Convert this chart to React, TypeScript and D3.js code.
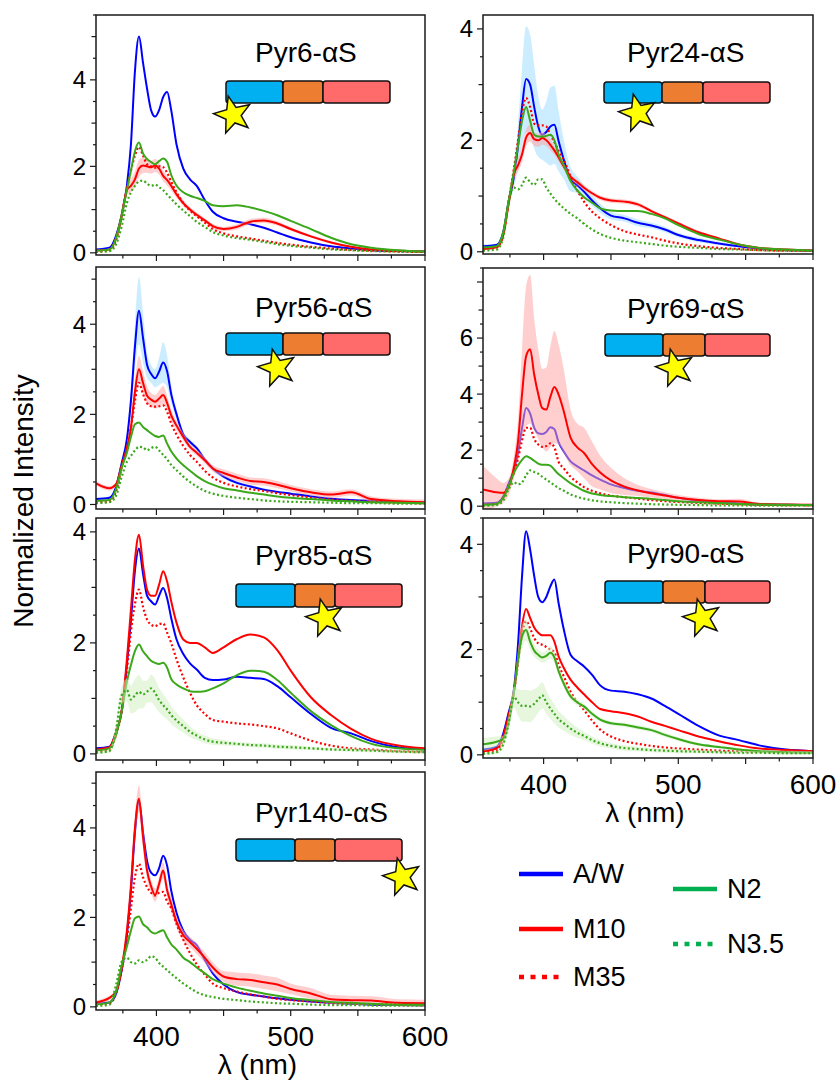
import React from "react";
import * as d3 from "d3";

// ---------------- DATA ----------------
const WAVELENGTHS = [355, 365, 370, 374, 378, 381, 384, 387, 390, 393, 396, 399, 402, 405, 408, 411, 415, 420, 425, 430, 436, 442, 450, 460, 470, 480, 490, 500, 515, 530, 545, 560, 580, 600];

const SERIES_KEYS = ["AW", "M10", "M35", "N2", "N35"];
const SERIES_LABELS = ["A/W", "M10", "M35", "N2", "N3.5"];

const X_TICK_LABELS = [400, 500, 600];
const Y_TICK_LABELS = [0, 2, 4, 6];

const PANEL_TITLES = ["Pyr6-αS", "Pyr24-αS", "Pyr56-αS", "Pyr69-αS", "Pyr85-αS", "Pyr90-αS", "Pyr140-αS"];

// Pyr6
const PYR6_AW = [0.08, 0.12, 0.4, 0.85, 1.55, 2.5, 4.2, 5.0, 4.4, 3.8, 3.3, 3.15, 3.3, 3.6, 3.72, 3.3, 2.5, 1.95, 1.7, 1.55, 1.22, 0.95, 0.8, 0.72, 0.66, 0.58, 0.47, 0.36, 0.24, 0.15, 0.1, 0.06, 0.04, 0.03];
const PYR6_M10 = [0.05, 0.08, 0.35, 0.85, 1.45, 1.55, 1.7, 1.95, 2.02, 2.0, 1.98, 2.02, 1.95, 1.78, 1.68, 1.55, 1.35, 1.15, 1.0, 0.88, 0.75, 0.62, 0.55, 0.6, 0.72, 0.75, 0.68, 0.55, 0.38, 0.24, 0.14, 0.08, 0.05, 0.03];
const PYR6_M35 = [0.03, 0.06, 0.3, 0.85, 1.5, 1.9, 2.25, 2.45, 2.25, 2.05, 2.0, 1.97, 2.0, 1.98, 1.85, 1.65, 1.4, 1.15, 0.98, 0.85, 0.7, 0.55, 0.45, 0.38, 0.33, 0.28, 0.23, 0.19, 0.14, 0.1, 0.07, 0.05, 0.03, 0.02];
const PYR6_N2 = [0.05, 0.08, 0.35, 0.85, 1.45, 1.9, 2.35, 2.55, 2.3, 2.17, 2.1, 2.05, 2.12, 2.18, 2.1, 1.8, 1.55, 1.4, 1.32, 1.27, 1.2, 1.1, 1.08, 1.1, 1.05, 0.97, 0.87, 0.74, 0.55, 0.35, 0.2, 0.12, 0.06, 0.03];
const PYR6_N35 = [0.02, 0.04, 0.2, 0.6, 1.15, 1.4, 1.55, 1.65, 1.67, 1.6, 1.55, 1.58, 1.52, 1.45, 1.35, 1.25, 1.12, 0.98, 0.85, 0.72, 0.6, 0.48, 0.4, 0.34, 0.3, 0.25, 0.2, 0.16, 0.12, 0.08, 0.06, 0.04, 0.03, 0.02];
const PYR6_M10_BAND = [0.02, 0.02, 0.05, 0.08, 0.12, 0.15, 0.18, 0.2, 0.18, 0.15, 0.15, 0.15, 0.14, 0.12, 0.12, 0.1, 0.08, 0.07, 0.06, 0.06, 0.05, 0.05, 0.05, 0.06, 0.06, 0.06, 0.05, 0.04, 0.03, 0.03, 0.02, 0.02, 0.02, 0.02];

// Pyr24
const PYR24_AW = [0.1, 0.12, 0.35, 0.9, 1.35, 1.9, 2.6, 3.1, 3.0, 2.6, 2.25, 2.1, 2.15, 2.25, 2.28, 2.0, 1.65, 1.3, 1.2, 1.08, 0.92, 0.78, 0.65, 0.6, 0.52, 0.47, 0.4, 0.3, 0.21, 0.15, 0.1, 0.06, 0.03, 0.02];
const PYR24_M10 = [0.05, 0.08, 0.3, 0.85, 1.4, 1.55, 1.75, 2.05, 2.13, 2.02, 2.0, 2.04, 2.0, 1.92, 1.82, 1.7, 1.53, 1.35, 1.25, 1.15, 1.05, 0.97, 0.92, 0.9, 0.85, 0.73, 0.62, 0.51, 0.35, 0.24, 0.13, 0.07, 0.04, 0.02];
const PYR24_M35 = [0.06, 0.08, 0.3, 0.9, 1.5, 2.0, 2.5, 2.76, 2.6, 2.3, 2.27, 2.27, 2.25, 2.1, 1.97, 1.82, 1.65, 1.35, 1.1, 0.9, 0.72, 0.6, 0.48, 0.37, 0.31, 0.26, 0.2, 0.15, 0.1, 0.07, 0.05, 0.03, 0.02, 0.02];
const PYR24_N2 = [0.08, 0.1, 0.35, 0.9, 1.45, 1.9, 2.35, 2.6, 2.35, 2.1, 2.07, 2.07, 2.08, 2.1, 2.0, 1.75, 1.55, 1.27, 1.1, 0.98, 0.88, 0.78, 0.74, 0.73, 0.73, 0.68, 0.6, 0.48, 0.32, 0.22, 0.13, 0.07, 0.04, 0.02];
const PYR24_N35 = [0.02, 0.04, 0.25, 0.9, 1.15, 1.12, 1.2, 1.33, 1.25, 1.2, 1.3, 1.3, 1.15, 1.05, 0.95, 0.87, 0.78, 0.68, 0.6, 0.5, 0.4, 0.32, 0.25, 0.2, 0.17, 0.14, 0.11, 0.09, 0.07, 0.05, 0.04, 0.03, 0.02, 0.02];
const PYR24_AW_BAND = [0.03, 0.03, 0.05, 0.1, 0.2, 0.4, 0.7, 0.95, 0.9, 0.75, 0.55, 0.45, 0.55, 0.7, 0.7, 0.55, 0.35, 0.22, 0.15, 0.12, 0.1, 0.08, 0.07, 0.06, 0.06, 0.05, 0.05, 0.04, 0.04, 0.03, 0.03, 0.02, 0.02, 0.02];
const PYR24_M10_BAND = [0.02, 0.02, 0.04, 0.06, 0.1, 0.12, 0.14, 0.15, 0.15, 0.12, 0.12, 0.12, 0.1, 0.1, 0.08, 0.08, 0.06, 0.05, 0.05, 0.05, 0.04, 0.04, 0.04, 0.04, 0.04, 0.03, 0.03, 0.03, 0.03, 0.02, 0.02, 0.02, 0.02, 0.02];

// Pyr56
const PYR56_AW = [0.12, 0.15, 0.4, 0.9, 1.45, 2.3, 3.5, 4.3, 3.7, 3.1, 2.9, 2.8, 2.95, 3.15, 2.95, 2.45, 2.0, 1.55, 1.39, 1.25, 1.0, 0.8, 0.62, 0.48, 0.4, 0.33, 0.28, 0.24, 0.18, 0.13, 0.1, 0.08, 0.06, 0.04];
const PYR56_M10 = [0.47, 0.36, 0.45, 0.85, 1.25, 1.7, 2.5, 3.0, 2.7, 2.42, 2.33, 2.28, 2.35, 2.43, 2.25, 1.98, 1.75, 1.5, 1.28, 1.15, 0.98, 0.8, 0.7, 0.6, 0.52, 0.5, 0.44, 0.36, 0.27, 0.22, 0.27, 0.12, 0.07, 0.05];
const PYR56_M35 = [0.05, 0.07, 0.3, 0.8, 1.25, 1.7, 2.3, 2.7, 2.45, 2.25, 2.18, 2.17, 2.18, 2.2, 2.05, 1.8, 1.55, 1.3, 1.1, 0.95, 0.75, 0.6, 0.48, 0.4, 0.34, 0.3, 0.25, 0.21, 0.15, 0.11, 0.08, 0.06, 0.04, 0.03];
const PYR56_N2 = [0.08, 0.1, 0.35, 0.8, 1.15, 1.5, 1.78, 1.82, 1.72, 1.65, 1.58, 1.52, 1.5, 1.53, 1.35, 1.18, 1.02, 0.87, 0.75, 0.63, 0.52, 0.44, 0.36, 0.31, 0.26, 0.22, 0.18, 0.15, 0.12, 0.09, 0.07, 0.05, 0.04, 0.03];
const PYR56_N35 = [0.03, 0.05, 0.2, 0.6, 0.95, 1.08, 1.2, 1.28, 1.27, 1.2, 1.25, 1.28, 1.2, 1.1, 1.0, 0.88, 0.76, 0.62, 0.5, 0.4, 0.3, 0.24, 0.19, 0.15, 0.12, 0.09, 0.07, 0.06, 0.05, 0.04, 0.03, 0.03, 0.02, 0.02];
const PYR56_AW_BAND = [0.03, 0.03, 0.05, 0.08, 0.12, 0.25, 0.5, 0.75, 0.55, 0.3, 0.2, 0.2, 0.3, 0.45, 0.35, 0.2, 0.12, 0.08, 0.06, 0.05, 0.05, 0.05, 0.04, 0.04, 0.04, 0.03, 0.03, 0.03, 0.03, 0.03, 0.02, 0.02, 0.02, 0.02];
const PYR56_M10_BAND = [0.05, 0.05, 0.05, 0.06, 0.1, 0.15, 0.25, 0.3, 0.25, 0.2, 0.15, 0.15, 0.18, 0.2, 0.15, 0.12, 0.1, 0.08, 0.07, 0.07, 0.07, 0.07, 0.08, 0.08, 0.08, 0.08, 0.08, 0.07, 0.07, 0.07, 0.07, 0.06, 0.06, 0.06];

// Pyr69
const PYR69_AW = [0.1, 0.12, 0.35, 0.8, 1.3, 1.9, 2.8, 3.5, 3.3, 2.8, 2.6, 2.58, 2.65, 2.82, 2.75, 2.3, 1.95, 1.6, 1.42, 1.28, 1.1, 0.95, 0.78, 0.65, 0.55, 0.49, 0.4, 0.3, 0.2, 0.15, 0.1, 0.07, 0.05, 0.04];
const PYR69_M10 = [0.6, 0.5, 0.48, 0.68, 1.4, 2.3, 4.0, 5.35, 5.6, 4.7, 4.0, 3.5, 3.45, 3.9, 4.25, 4.0, 3.38, 2.45, 2.1, 1.9, 1.5, 1.2, 0.92, 0.7, 0.56, 0.46, 0.38, 0.3, 0.22, 0.18, 0.17, 0.08, 0.06, 0.05];
const PYR69_M35 = [0.05, 0.08, 0.3, 0.75, 1.2, 1.7, 2.35, 2.8, 2.8, 2.4, 2.2, 2.12, 2.15, 2.24, 2.1, 1.6, 1.35, 1.05, 0.85, 0.68, 0.55, 0.46, 0.38, 0.32, 0.27, 0.22, 0.18, 0.15, 0.12, 0.09, 0.07, 0.05, 0.04, 0.03];
const PYR69_N2 = [0.05, 0.08, 0.3, 0.7, 1.2, 1.45, 1.65, 1.78, 1.72, 1.62, 1.52, 1.48, 1.48, 1.45, 1.3, 1.15, 1.0, 0.82, 0.68, 0.55, 0.45, 0.4, 0.36, 0.32, 0.29, 0.26, 0.22, 0.18, 0.14, 0.11, 0.08, 0.06, 0.05, 0.04];
const PYR69_N35 = [0.02, 0.04, 0.2, 0.6, 0.85, 0.78, 0.85, 1.1, 1.28, 1.22, 1.16, 1.05, 0.95, 0.85, 0.75, 0.65, 0.55, 0.42, 0.33, 0.27, 0.21, 0.17, 0.14, 0.11, 0.09, 0.07, 0.06, 0.05, 0.04, 0.03, 0.03, 0.02, 0.02, 0.02];
const PYR69_M10_BAND = [0.85, 0.5, 0.35, 0.3, 0.4, 0.8, 1.6, 2.5, 2.65, 2.0, 1.6, 1.4, 1.5, 1.8, 2.0, 1.8, 1.5, 1.0, 0.85, 0.9, 0.8, 0.6, 0.45, 0.3, 0.2, 0.15, 0.12, 0.1, 0.08, 0.07, 0.1, 0.05, 0.04, 0.04];

// Pyr85
const PYR85_AW = [0.1, 0.13, 0.4, 0.75, 1.6, 2.4, 3.3, 3.7, 3.25, 2.85, 2.75, 2.69, 2.85, 2.99, 2.8, 2.45, 2.06, 1.8, 1.63, 1.52, 1.37, 1.33, 1.34, 1.39, 1.37, 1.35, 1.22, 1.02, 0.72, 0.47, 0.37, 0.23, 0.12, 0.08];
const PYR85_M10 = [0.08, 0.12, 0.4, 0.75, 1.7, 2.6, 3.5, 3.95, 3.4, 2.96, 2.85, 2.85, 3.05, 3.29, 3.1, 2.75, 2.36, 2.06, 2.0, 2.0, 1.92, 1.82, 1.92, 2.07, 2.15, 2.1, 1.87, 1.5, 1.02, 0.7, 0.45, 0.27, 0.15, 0.1];
const PYR85_M35 = [0.05, 0.08, 0.35, 0.75, 1.5, 2.2, 2.7, 2.96, 2.65, 2.42, 2.33, 2.3, 2.34, 2.35, 2.18, 2.0, 1.7, 1.38, 1.1, 0.88, 0.72, 0.61, 0.58, 0.55, 0.53, 0.5, 0.46, 0.37, 0.24, 0.15, 0.1, 0.08, 0.05, 0.04];
const PYR85_N2 = [0.06, 0.1, 0.35, 0.75, 1.3, 1.6, 1.85, 1.97, 1.85, 1.76, 1.68, 1.64, 1.62, 1.64, 1.55, 1.35, 1.25, 1.18, 1.13, 1.12, 1.13, 1.18, 1.27, 1.42, 1.5, 1.48, 1.33, 1.1, 0.77, 0.52, 0.32, 0.18, 0.1, 0.07];
const PYR85_N35 = [0.02, 0.05, 0.45, 1.05, 1.15, 0.98, 1.05, 1.12, 1.07, 1.12, 1.18, 1.1, 0.97, 0.88, 0.8, 0.7, 0.6, 0.5, 0.4, 0.33, 0.26, 0.22, 0.2, 0.18, 0.16, 0.15, 0.13, 0.12, 0.1, 0.08, 0.07, 0.06, 0.04, 0.03];
const PYR85_N35_BAND = [0.02, 0.03, 0.1, 0.15, 0.2, 0.25, 0.3, 0.3, 0.25, 0.2, 0.25, 0.25, 0.22, 0.2, 0.18, 0.16, 0.14, 0.12, 0.1, 0.08, 0.07, 0.06, 0.05, 0.04, 0.04, 0.04, 0.04, 0.04, 0.03, 0.03, 0.03, 0.03, 0.03, 0.03];

// Pyr90
const PYR90_AW = [0.1, 0.15, 0.4, 0.8, 1.25, 2.1, 3.4, 4.25, 3.9, 3.4, 3.0, 2.9, 3.0, 3.2, 3.33, 2.9, 2.38, 1.9, 1.78, 1.68, 1.52, 1.32, 1.22, 1.2, 1.15, 1.07, 0.93, 0.78, 0.55, 0.37, 0.28, 0.18, 0.1, 0.07];
const PYR90_M10 = [0.07, 0.12, 0.35, 0.75, 1.2, 1.8, 2.45, 2.77, 2.6, 2.42, 2.32, 2.27, 2.27, 2.27, 2.15, 1.88, 1.65, 1.43, 1.28, 1.15, 1.0, 0.87, 0.83, 0.79, 0.73, 0.63, 0.55, 0.47, 0.35, 0.26, 0.18, 0.12, 0.09, 0.07];
const PYR90_M35 = [0.05, 0.08, 0.3, 0.7, 1.2, 1.75, 2.3, 2.54, 2.4, 2.22, 2.12, 2.09, 2.05, 2.0, 1.95, 1.72, 1.49, 1.2, 1.0, 0.85, 0.65, 0.48, 0.35, 0.26, 0.21, 0.17, 0.14, 0.12, 0.1, 0.08, 0.07, 0.06, 0.05, 0.04];
const PYR90_N2 = [0.2, 0.25, 0.3, 0.6, 1.2, 1.8, 2.25, 2.37, 2.15, 1.98, 1.9, 1.85, 1.88, 1.94, 1.85, 1.6, 1.35, 1.11, 1.0, 0.92, 0.78, 0.67, 0.6, 0.57, 0.52, 0.47, 0.38, 0.3, 0.2, 0.15, 0.1, 0.07, 0.05, 0.04];
const PYR90_N35 = [0.02, 0.05, 0.2, 0.6, 1.1, 1.0, 0.93, 0.93, 0.92, 0.97, 1.05, 1.13, 1.0, 0.88, 0.78, 0.68, 0.6, 0.5, 0.42, 0.36, 0.28, 0.22, 0.17, 0.13, 0.11, 0.09, 0.08, 0.07, 0.06, 0.05, 0.04, 0.04, 0.03, 0.03];
const PYR90_N2_BAND = [0.12, 0.1, 0.06, 0.06, 0.1, 0.2, 0.22, 0.2, 0.15, 0.12, 0.1, 0.1, 0.1, 0.12, 0.1, 0.08, 0.07, 0.07, 0.06, 0.05, 0.05, 0.04, 0.04, 0.04, 0.04, 0.04, 0.04, 0.04, 0.03, 0.03, 0.03, 0.03, 0.03, 0.03];
const PYR90_N35_BAND = [0.03, 0.03, 0.08, 0.15, 0.2, 0.25, 0.3, 0.3, 0.3, 0.28, 0.25, 0.25, 0.22, 0.2, 0.18, 0.16, 0.14, 0.12, 0.1, 0.08, 0.07, 0.06, 0.05, 0.05, 0.04, 0.04, 0.04, 0.04, 0.03, 0.03, 0.03, 0.03, 0.03, 0.03];

// Pyr140
const PYR140_AW = [0.08, 0.1, 0.3, 0.8, 1.6, 2.6, 3.9, 4.6, 3.9, 3.27, 3.0, 2.94, 3.1, 3.38, 3.15, 2.6, 2.1, 1.7, 1.5, 1.38, 1.05, 0.75, 0.5, 0.33, 0.27, 0.23, 0.19, 0.16, 0.12, 0.09, 0.07, 0.05, 0.04, 0.03];
const PYR140_M10 = [0.1, 0.2, 0.35, 0.85, 1.7, 2.7, 4.0, 4.65, 3.8, 3.05, 2.7, 2.5, 2.75, 3.05, 2.6, 2.3, 1.9, 1.6, 1.45, 1.3, 1.1, 0.88, 0.68, 0.62, 0.6, 0.55, 0.5, 0.4, 0.3, 0.17, 0.15, 0.14, 0.09, 0.08];
const PYR140_M35 = [0.05, 0.08, 0.3, 0.8, 1.5, 2.2, 2.9, 3.2, 2.9, 2.68, 2.55, 2.49, 2.55, 2.57, 2.35, 2.2, 1.85, 1.5, 1.2, 0.95, 0.72, 0.52, 0.42, 0.34, 0.28, 0.23, 0.18, 0.15, 0.12, 0.09, 0.07, 0.06, 0.05, 0.04];
const PYR140_N2 = [0.05, 0.1, 0.35, 0.9, 1.35, 1.7, 1.98, 2.02, 1.85, 1.78, 1.68, 1.64, 1.68, 1.71, 1.55, 1.4, 1.28, 1.1, 1.0, 0.88, 0.75, 0.62, 0.52, 0.43, 0.36, 0.3, 0.25, 0.2, 0.15, 0.11, 0.09, 0.07, 0.05, 0.05];
const PYR140_N35 = [0.02, 0.05, 0.5, 1.0, 1.1, 1.0, 0.97, 1.04, 1.0, 1.05, 1.13, 1.1, 0.98, 0.9, 0.82, 0.74, 0.64, 0.52, 0.42, 0.33, 0.26, 0.22, 0.18, 0.15, 0.12, 0.1, 0.08, 0.07, 0.05, 0.04, 0.04, 0.03, 0.03, 0.03];
const PYR140_M10_BAND = [0.05, 0.05, 0.06, 0.08, 0.12, 0.18, 0.25, 0.3, 0.25, 0.2, 0.15, 0.15, 0.15, 0.18, 0.15, 0.15, 0.12, 0.12, 0.12, 0.12, 0.12, 0.12, 0.12, 0.15, 0.15, 0.15, 0.15, 0.12, 0.12, 0.1, 0.1, 0.1, 0.08, 0.08];

// -------------- STYLE / LAYOUT --------------
const FONT = "'Liberation Sans', Arial, Helvetica, sans-serif";
const COLS: [number, number][] = [[96, 425], [483, 813]];
const X_DOMAIN: [number, number] = [355, 600];

const STYLES: Record<string, { color: string; dash?: string; band: string; bandOpacity: number }> = {
  AW: { color: "#0000ff", band: "rgb(160,222,255)", bandOpacity: 0.55 },
  M10: { color: "#ff0000", band: "rgb(255,168,168)", bandOpacity: 0.55 },
  M35: { color: "#ff0000", dash: "2,2.4", band: "rgb(255,168,168)", bandOpacity: 0.55 },
  N2: { color: "#3aa81a", band: "rgb(205,240,190)", bandOpacity: 0.5 },
  N35: { color: "#3aa81a", dash: "2,2.4", band: "rgb(205,240,190)", bandOpacity: 0.5 },
};

const PANELS = [
  { title: PANEL_TITLES[0], col: 0, top: 15, bottom: 255, yDomain: [-0.05, 5.5], titlePos: [255, 62], bar: [226, 283, 323, 390, 81, 22], star: [233, 115], xLabels: false,
    data: { AW: PYR6_AW, M10: PYR6_M10, M35: PYR6_M35, N2: PYR6_N2, N35: PYR6_N35 }, bands: { M10: PYR6_M10_BAND } },
  { title: PANEL_TITLES[1], col: 1, top: 15, bottom: 254, yDomain: [-0.04, 4.25], titlePos: [627, 62], bar: [604, 662, 703, 770, 82, 21], star: [638, 113], xLabels: false,
    data: { AW: PYR24_AW, M10: PYR24_M10, M35: PYR24_M35, N2: PYR24_N2, N35: PYR24_N35 }, bands: { AW: PYR24_AW_BAND, M10: PYR24_M10_BAND } },
  { title: PANEL_TITLES[2], col: 0, top: 267, bottom: 509, yDomain: [-0.1, 5.27], titlePos: [255, 317], bar: [226, 283, 323, 390, 333, 22], star: [277, 368], xLabels: false,
    data: { AW: PYR56_AW, M10: PYR56_M10, M35: PYR56_M35, N2: PYR56_N2, N35: PYR56_N35 }, bands: { AW: PYR56_AW_BAND, M10: PYR56_M10_BAND } },
  { title: PANEL_TITLES[3], col: 1, top: 268, bottom: 509, yDomain: [-0.1, 8.5], titlePos: [627, 318], bar: [605, 663, 705, 770, 334, 22], star: [675, 368], xLabels: false,
    data: { AW: PYR69_AW, M10: PYR69_M10, M35: PYR69_M35, N2: PYR69_N2, N35: PYR69_N35 }, bands: { M10: PYR69_M10_BAND } },
  { title: PANEL_TITLES[4], col: 0, top: 518, bottom: 760, yDomain: [-0.11, 4.25], titlePos: [255, 565], bar: [236, 295, 335, 402, 584, 23], star: [325, 618], xLabels: false,
    data: { AW: PYR85_AW, M10: PYR85_M10, M35: PYR85_M35, N2: PYR85_N2, N35: PYR85_N35 }, bands: { N35: PYR85_N35_BAND } },
  { title: PANEL_TITLES[5], col: 1, top: 518, bottom: 758, yDomain: [-0.06, 4.5], titlePos: [627, 563], bar: [605, 663, 705, 770, 581, 22], star: [702, 618], xLabels: true,
    data: { AW: PYR90_AW, M10: PYR90_M10, M35: PYR90_M35, N2: PYR90_N2, N35: PYR90_N35 }, bands: { N2: PYR90_N2_BAND, N35: PYR90_N35_BAND } },
  { title: PANEL_TITLES[6], col: 0, top: 772, bottom: 1010, yDomain: [-0.07, 5.25], titlePos: [255, 822], bar: [236, 295, 335, 402, 839, 22], star: [402, 877], xLabels: true,
    data: { AW: PYR140_AW, M10: PYR140_M10, M35: PYR140_M35, N2: PYR140_N2, N35: PYR140_N35 }, bands: { M10: PYR140_M10_BAND } },
];

const LEGEND = [
  { key: "AW", x: 519, y: 874 },
  { key: "M10", x: 519, y: 929 },
  { key: "M35", x: 519, y: 977 },
  { key: "N2", x: 673, y: 889 },
  { key: "N35", x: 673, y: 944 },
];
const LEGEND_GREEN = "#00b050";

function starPath(cx: number, cy: number, R: number, r: number, rot: number) {
  const pts: string[] = [];
  for (let i = 0; i < 10; i++) {
    const a = ((rot + i * 36) * Math.PI) / 180;
    const rad = i % 2 === 0 ? R : r;
    pts.push(`${(cx + rad * Math.sin(a)).toFixed(2)},${(cy - rad * Math.cos(a)).toFixed(2)}`);
  }
  return "M" + pts.join("L") + "Z";
}

function Panel({ p, idx }: { p: any; idx: number }) {
  const [x0, x1] = COLS[p.col];
  const x = d3.scaleLinear().domain(X_DOMAIN).range([x0, x1]);
  const y = d3.scaleLinear().domain(p.yDomain).range([p.bottom, p.top]);
  const clipId = `clip-${idx}`;

  const line = d3
    .line<number>()
    .x((_, i) => x(WAVELENGTHS[i]))
    .y((d) => y(d))
    .curve(d3.curveMonotoneX);

  const yTicks: number[] = [];
  for (let v = 0; v <= p.yDomain[1] + 1e-9; v += 0.5) yTicks.push(v);
  const xTicks: number[] = [];
  for (let v = 375; v <= 600; v += 25) xTicks.push(v);

  const [b0, b1, b2, b3, by, bh] = p.bar;

  return (
    <g>
      <defs>
        <clipPath id={clipId}>
          <rect x={x0} y={p.top} width={x1 - x0} height={p.bottom - p.top} />
        </clipPath>
      </defs>
      <g clipPath={`url(#${clipId})`}>
        {SERIES_KEYS.map((k) => {
          const vals: number[] = p.data[k];
          const band: number[] | undefined = p.bands[k];
          const st = STYLES[k];
          let bandPath: string | null = null;
          if (band) {
            const area = d3
              .area<number>()
              .x((_, i) => x(WAVELENGTHS[i]))
              .y0((d, i) => y(d - band[i]))
              .y1((d, i) => y(d + band[i]))
              .curve(d3.curveMonotoneX);
            bandPath = area(vals);
          }
          return (
            <g key={k}>
              {bandPath && <path d={bandPath} fill={st.band} fillOpacity={st.bandOpacity} stroke="none" />}
              <path
                d={line(vals) || ""}
                fill="none"
                stroke={st.color}
                strokeWidth={st.dash ? 2.2 : 2}
                strokeDasharray={st.dash}
                strokeLinejoin="round"
              />
            </g>
          );
        })}
      </g>
      {/* frame */}
      <rect x={x0} y={p.top} width={x1 - x0} height={p.bottom - p.top} fill="none" stroke="#1a1a1a" strokeWidth={1.5} />
      {/* y ticks */}
      {yTicks.map((v) => {
        const isLab = Y_TICK_LABELS.includes(v);
        const isInt = Math.abs(v % 1) < 1e-9;
        const len = Math.abs(v % 2) < 1e-9 ? 6 : isInt ? 4.5 : 3;
        return (
          <g key={`y${v}`}>
            <line x1={x0 - len} x2={x0} y1={y(v)} y2={y(v)} stroke="#1a1a1a" strokeWidth={1.2} />
            {isLab && (
              <text x={x0 - 10} y={y(v)} dy="0.35em" textAnchor="end" fontFamily={FONT} fontSize={24} fill="#000">
                {v}
              </text>
            )}
          </g>
        );
      })}
      {/* x ticks */}
      {xTicks.map((v) => {
        const major = v % 50 === 0;
        const len = major ? 6 : 3.5;
        return (
          <line key={`x${v}`} x1={x(v)} x2={x(v)} y1={p.bottom} y2={p.bottom + len} stroke="#1a1a1a" strokeWidth={1.2} />
        );
      })}
      {p.xLabels &&
        X_TICK_LABELS.map((v) => (
          <text key={`xl${v}`} x={x(v)} y={p.bottom + 36} textAnchor="middle" fontFamily={FONT} fontSize={28} fill="#000">
            {v}
          </text>
        ))}
      {p.xLabels && (
        <text x={(x0 + x1) / 2 - 3} y={p.bottom + 64} textAnchor="middle" fontFamily={FONT} fontSize={28} fill="#000">
          λ (nm)
        </text>
      )}
      {/* title */}
      <text x={p.titlePos[0]} y={p.titlePos[1]} fontFamily={FONT} fontSize={28} fill="#000">
        {p.title}
      </text>
      {/* protein bar */}
      <rect x={b0} y={by} width={b1 - b0} height={bh} rx={3} fill="#00b0f0" stroke="#111" strokeWidth={1.5} />
      <rect x={b1} y={by} width={b2 - b1} height={bh} rx={3} fill="#ed7d31" stroke="#111" strokeWidth={1.5} />
      <rect x={b2} y={by} width={b3 - b2} height={bh} rx={3} fill="#ff6b6b" stroke="#111" strokeWidth={1.5} />
      <path d={starPath(p.star[0], p.star[1], 19.5, 8.2, -14)} fill="#ffff00" stroke="#111" strokeWidth={1.5} strokeLinejoin="miter" />
    </g>
  );
}

export default function App() {
  return (
    <svg
      width={838}
      height={1081}
      viewBox="0 0 838 1081"
      style={{ position: "absolute", left: 0, top: 0, display: "block", background: "#fff" }}
    >
      <rect x={0} y={0} width={838} height={1081} fill="#fff" />
      {PANELS.map((p, i) => (
        <Panel key={i} p={p} idx={i} />
      ))}
      <text
        transform="translate(33,501) rotate(-90)"
        textAnchor="middle"
        fontFamily={FONT}
        fontSize={28}
        fill="#000"
      >
        Normalized Intensity
      </text>
      {LEGEND.map((l) => {
        const i = SERIES_KEYS.indexOf(l.key);
        const st = STYLES[l.key];
        const color = l.key.startsWith("N") ? LEGEND_GREEN : st.color;
        return (
          <g key={l.key}>
            <line
              x1={l.x}
              x2={l.x + 44}
              y1={l.y}
              y2={l.y}
              stroke={color}
              strokeWidth={4.5}
              strokeDasharray={st.dash ? "5,6.5" : undefined}
            />
            <text x={l.x + 54} y={l.y + 9} fontFamily={FONT} fontSize={27} fill="#000">
              {SERIES_LABELS[i]}
            </text>
          </g>
        );
      })}
    </svg>
  );
}
